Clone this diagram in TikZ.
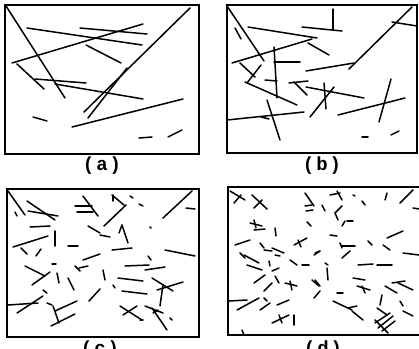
\documentclass[tikz,border=0pt]{standalone}
\usepackage{fontspec}
\newfontfamily\panelfont{Liberation Mono}
\tikzset{
  fibre/.style={line width=1.5pt,line cap=round},
  panelbox/.style={line width=1.6pt},
  sublabel/.style={font=\panelfont\bfseries\fontsize{19}{19}\selectfont,inner sep=0pt},
}
\begin{document}
\begin{tikzpicture}[x=1pt,y=-1pt]
  \useasboundingbox (0,0) rectangle (419,348);
  % frames
  \draw[panelbox] (5,5) rectangle (199,154);
  \draw[panelbox] (227,5) rectangle (417,153);
  \draw[panelbox] (7,189) rectangle (199,337);
  \draw[panelbox] (228,187) rectangle (422,335);
  % (a) few long fibres
  \foreach \xa/\ya/\xb/\yb in {6/6/65/98, 27/28/142/45, 80/28/147/34, 12/63/143/24,
      86/45/121/63, 17/64/44/89, 35/79/86/83, 55/84/143/99, 190/8/84/112, 88/118/127/68,
      33/117/47/121, 72/127/183/99, 139/138/152/137, 168/137/182/130}
    \draw[fibre] (\xa,\ya) -- (\xb,\yb);
  % (b)
  \foreach \xa/\ya/\xb/\yb in {227/6/264/61, 235/28/241/39, 248/27/317/38, 232/63/312/39,
      308/43/329/55, 333/9/333/30, 302/27/342/31, 412/7/349/69, 392/22/417/26,
      306/71/354/63, 274/47/277/98, 274/62/300/62, 240/63/255/77, 261/65/247/83,
      245/82/297/105, 265/80/277/81, 289/83/308/81, 294/82/307/95, 306/87/364/98,
      324/83/326/109, 310/117/334/87, 267/100/280/140, 227/120/304/112, 261/117/269/119,
      338/115/405/98, 391/79/379/122, 362/137/368/137, 391/135/399/131}
    \draw[fibre] (\xa,\ya) -- (\xb,\yb);
  % (c)
  \foreach \xa/\ya/\xb/\yb in {8/191/25/215, 15/212/17/216, 27/201/55/220, 28/211/58/216,
      30/227/50/226, 55/231/55/246, 13/247/48/236, 21/248/27/254, 36/256/41/249,
      68/246/78/246, 75/206/92/206, 77/212/93/212, 83/196/98/216, 88/226/100/233,
      83/260/100/254, 75/266/80/271, 79/268/88/266, 52/264/56/264, 25/266/45/276,
      32/285/50/272, 57/273/59/283, 68/278/74/290, 100/289/89/301, 43/290/47/293,
      8/305/38/303, 17/313/43/296, 47/303/52/305, 53/306/59/323, 55/311/77/301,
      51/326/75/314, 112/195/124/205, 113/195/113/201, 126/205/104/226, 130/196/133/198,
      139/204/143/206, 192/191/163/218, 186/208/195/209, 122/225/128/243, 119/233/122/225,
      100/235/110/237, 112/250/132/248, 165/250/195/256, 148/256/151/260, 125/266/149/265,
      145/270/165/267, 103/270/105/280, 118/278/143/281, 113/285/115/288, 152/278/173/291,
      157/290/183/282, 163/285/160/306, 122/291/147/294, 120/306/142/320, 123/315/137/306,
      140/320/143/320, 145/306/163/313, 152/308/167/330, 153/313/158/310, 170/318/172/320,
      150/227/151/228}
    \draw[fibre] (\xa,\ya) -- (\xb,\yb);
  % (d) many short fibres
  \foreach \xa/\ya/\xb/\yb in {230/191/245/200, 234/203/241/195, 252/195/267/209,
      254/208/262/200, 305/193/314/206, 305/206/312/205, 306/211/313/210, 250/223/262/226,
      254/220/256/228, 254/230/265/229, 275/228/276/236, 307/222/311/226, 235/245/250/240,
      260/243/264/248, 240/253/245/258, 264/250/272/251, 272/248/284/253, 294/245/307/238,
      298/240/301/247, 314/255/320/251, 244/255/259/263, 247/265/262/270, 269/261/270/266,
      275/255/280/256, 290/260/297/265, 302/265/309/265, 254/283/265/275, 272/271/279/268,
      264/291/272/283, 275/276/279/283, 285/283/297/286, 290/281/292/290, 312/280/319/286,
      314/298/320/291, 229/301/247/300, 237/310/259/298, 264/298/267/301, 260/310/270/303,
      277/305/289/300, 272/323/289/315, 279/315/282/323, 294/315/294/325, 242/330/244/335,
      330/195/340/193, 337/191/342/200, 353/195/355/196, 362/201/365/205, 387/193/385/200,
      400/203/413/190, 413/208/419/209, 322/205/325/211, 335/213/342/206, 335/213/338/220,
      342/226/345/221, 347/221/353/221, 330/235/337/236, 340/243/342/248, 342/246/355/246,
      368/241/372/245, 387/238/403/231, 383/245/390/250, 403/253/419/255, 315/253/320/251,
      350/251/342/258, 325/263/328/265, 358/265/373/264, 377/265/392/265, 327/268/328/280,
      353/278/365/280, 357/286/370/290, 362/286/365/293, 315/280/320/286, 385/286/397/293,
      392/283/405/281, 398/283/413/290, 337/293/343/293, 333/301/352/310, 348/308/357/306,
      352/311/363/320, 382/295/380/305, 377/308/387/315, 400/301/403/306, 403/311/413/316,
      375/323/390/313, 378/328/393/316, 382/331/395/321, 375/320/388/333}
    \draw[fibre] (\xa,\ya) -- (\xb,\yb);
  % captions
  \node[sublabel] (capa) at (102,166) {(\kern2pt a\kern2pt)};
  \node[sublabel] (capb) at (322,166) {(\kern2pt b\kern2pt)};
  \node[sublabel] (capc) at (100,350) {(\kern2pt c\kern2pt)};
  \node[sublabel] (capd) at (323,350) {(\kern2pt d\kern2pt)};
\end{tikzpicture}
\end{document}
